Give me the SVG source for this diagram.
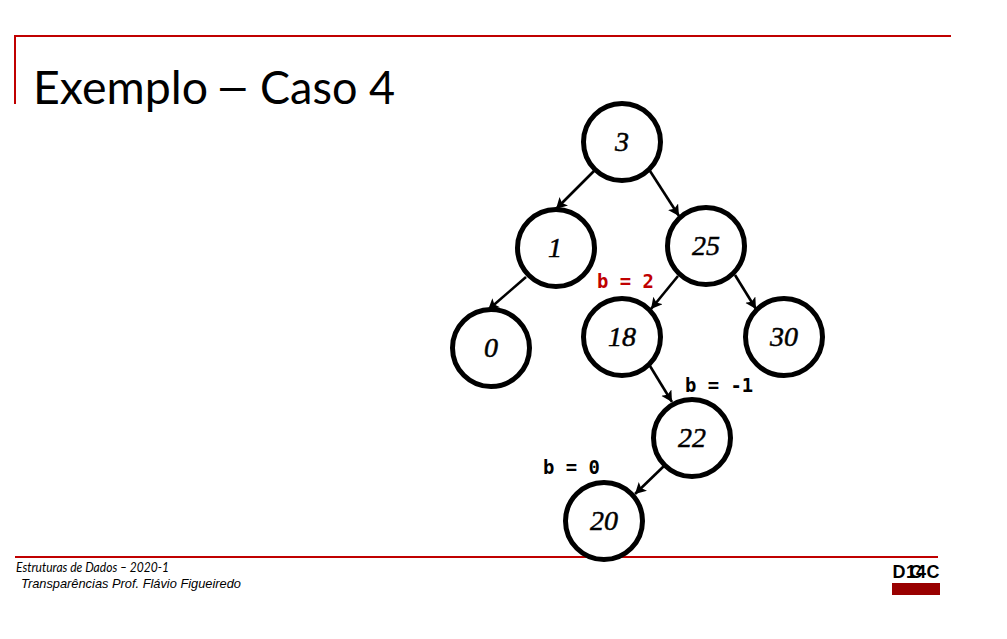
<svg xmlns="http://www.w3.org/2000/svg" width="1007" height="639" viewBox="0 0 1007 639">
<style>
.n{fill:#fff;stroke:#000;stroke-width:5}
.v{font:italic 28px "Liberation Serif",serif;text-anchor:middle;fill:#000;stroke:#000;stroke-width:.5}
.c{stroke:#000;stroke-width:2.6;fill:none;marker-end:url(#a)}
.b{font:bold 18.9px "DejaVu Sans Mono","Liberation Mono",monospace;fill:#000;white-space:pre}
.r{stroke:#c00000;stroke-width:2;fill:none}
.f{font:italic 12.5px "Lato","Liberation Sans",sans-serif;fill:#000}
.g{font:bold 18px "Liberation Sans",sans-serif;fill:#000;text-anchor:middle}
</style>
<defs><marker id="a" markerUnits="userSpaceOnUse" markerWidth="14" markerHeight="14" refX="11" refY="6" orient="auto"><path d="M0 0L11 6L0 12L2.5 6Z" fill="#000"/></marker></defs>
<rect width="1007" height="639" fill="#fff"/>
<g id="frame">
<path class="r" d="M15 104V36H951"/>
<path class="r" d="M15 557H938"/>
<rect x="892" y="583" width="48" height="12" fill="#990000"/>
</g>
<text x="33" y="104" font-family="Lato,'Liberation Sans',sans-serif" font-size="46" fill="#000"><tspan textLength="175" lengthAdjust="spacingAndGlyphs">Exemplo</tspan><tspan x="220" dy="-3" font-family="'Liberation Sans',sans-serif">–</tspan><tspan x="260" dy="3" textLength="135" lengthAdjust="spacingAndGlyphs">Caso 4</tspan></text>
<text class="f" x="16" y="572" textLength="153" lengthAdjust="spacingAndGlyphs">Estruturas de Dados – 2020-1</text>
<text x="21" y="588" font-family="'Liberation Sans',sans-serif" font-style="italic" font-size="13" textLength="220" lengthAdjust="spacingAndGlyphs" fill="#000">Transparências Prof. Flávio Figueiredo</text>
<text class="g" x="916" y="578" textLength="47" lengthAdjust="spacing">DCC</text>
<text class="g" x="916" y="578">14</text>
<g id="connectors">
<path class="c" d="M594 171L556 209"/>
<path class="c" d="M650 171L679 216"/>
<path class="c" d="M526 277L488 310"/>
<path class="c" d="M678 276L651 309"/>
<path class="c" d="M735 275L756 309"/>
<path class="c" d="M650 366L672 402"/>
<path class="c" d="M664 466L635 494"/>
</g>
<g id="n3"><circle class="n" cx="622" cy="142" r="38.5"/><text class="v" x="622" y="151">3</text></g>
<g id="n1"><circle class="n" cx="556" cy="248" r="38.5"/><text class="v" x="555" y="257">1</text></g>
<g id="n25"><circle class="n" cx="706" cy="246" r="38.5"/><text class="v" x="706" y="255">25</text></g>
<g id="n0"><circle class="n" cx="491" cy="348" r="38.5"/><text class="v" x="491" y="357">0</text></g>
<g id="n18"><circle class="n" cx="622" cy="337" r="38.5"/><text class="v" x="622" y="346">18</text></g>
<g id="n30"><circle class="n" cx="784" cy="337" r="38.5"/><text class="v" x="784" y="346">30</text></g>
<g id="n22"><circle class="n" cx="692" cy="438" r="38.5"/><text class="v" x="692" y="447">22</text></g>
<g id="n20"><circle class="n" cx="604" cy="521" r="38.5"/><text class="v" x="604" y="530">20</text></g>
<text class="b" x="597" y="288" style="fill:#c00000">b = 2</text>
<text class="b" x="685" y="392">b = -1</text>
<text class="b" x="543" y="474">b = 0</text>
</svg>
